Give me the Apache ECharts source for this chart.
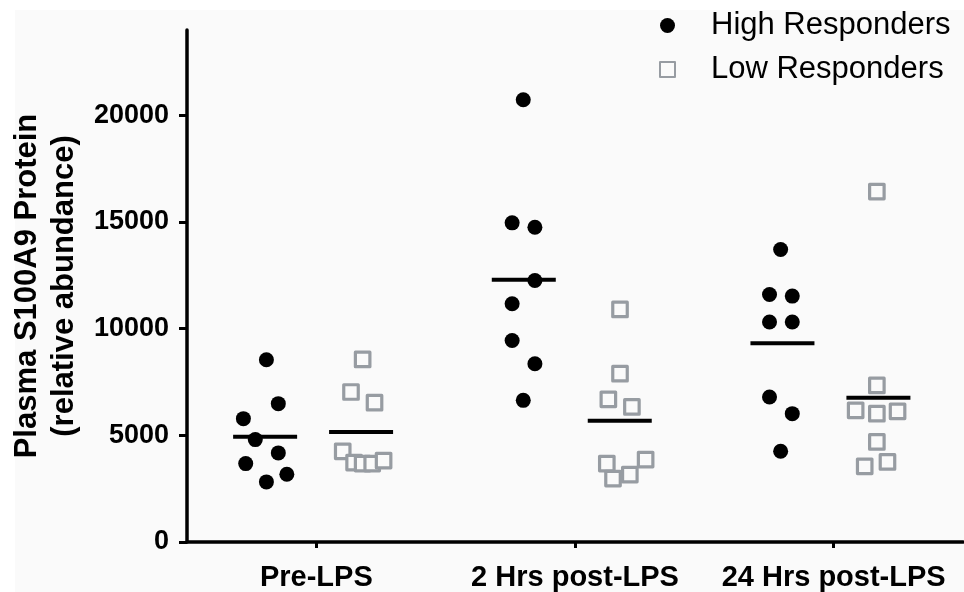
<!DOCTYPE html>
<html>
<head>
<meta charset="utf-8">
<script src="https://cdn.jsdelivr.net/npm/echarts@6/dist/echarts.min.js"></script>
<style>
  html, body { margin: 0; padding: 0; background: #ffffff; }
  #main { width: 964px; height: 592px; }
</style>
</head>
<body>
<div id="main"></div>
<script>
// categories on the x axis (placed at 0, 1, 2)
var categories = ['Pre-LPS', '2 Hrs post-LPS', '24 Hrs post-LPS'];
var yTicks = [0, 5000, 10000, 15000, 20000];

// High responders: x position (category index + jitter) and value
var highX = [
  -0.193, -0.147, -0.282, -0.236, -0.147, -0.273, -0.114, -0.193,
  0.800, 0.757, 0.845, 0.845, 0.757, 0.757, 0.845, 0.800,
  1.795, 1.752, 1.840, 1.752, 1.840, 1.752, 1.840, 1.795
];
var highY = [
  8545, 6485, 5782, 4799, 4176, 3675, 3174, 2818,
  20732, 14959, 14757, 12257, 11167, 9448, 8357, 6639,
  13709, 11602, 11527, 10310, 10310, 6798, 6016, 4251
];

// Low responders
var lowX = [
  0.179, 0.134, 0.225, 0.102, 0.146, 0.179, 0.216, 0.260,
  1.174, 1.174, 1.129, 1.220, 1.123, 1.147, 1.212, 1.273,
  2.167, 2.167, 2.085, 2.167, 2.247, 2.167, 2.208, 2.120
];
var lowY = [
  8560, 7032, 6531, 4251, 3722, 3675, 3675, 3815,
  10900, 7889, 6686, 6330, 3675, 2973, 3160, 3863,
  16425, 7341, 6171, 6016, 6124, 4691, 3755, 3549
];

var HIGH_OFF = -0.198, LOW_OFF = 0.173;
var PER_GROUP = 8;

function pairs(xs, ys) {
  return xs.map(function (x, i) { return [x, ys[i]]; });
}
function means(ys, off) {
  var out = [];
  for (var g = 0; g < categories.length; g++) {
    var s = 0;
    for (var k = 0; k < PER_GROUP; k++) s += ys[g * PER_GROUP + k];
    out.push([g + off, s / PER_GROUP]);
  }
  return out;
}

var meanLines = means(highY, HIGH_OFF).concat(means(lowY, LOW_OFF));

var font = 'Liberation Sans';
var chart = echarts.init(document.getElementById('main'));

chart.setOption({
  backgroundColor: '#ffffff',
  animation: false,
  textStyle: { fontFamily: font },
  graphic: [{
    type: 'rect', z: -10, silent: true,
    shape: { x: 15, y: 10, width: 964, height: 592 },
    style: { fill: '#fafafa' }
  }],
  grid: { left: 187, right: 1, top: 30, bottom: 48.5 },
  legend: {
    orient: 'vertical',
    left: 654, top: 5,
    itemWidth: 15, itemHeight: 15,
    itemGap: 13,
    textStyle: { fontSize: 31, color: '#000', fontFamily: font, padding: [0, 0, 0, 31] },
    data: [
      { name: 'High Responders', icon: 'circle' },
      { name: 'Low Responders', icon: 'rect' }
    ]
  },
  xAxis: {
    type: 'value',
    min: -0.5, max: 2.5,
    splitLine: { show: false },
    axisLine: { onZero: false, lineStyle: { color: '#000', width: 3.5 } },
    axisTick: { show: true, customValues: [0, 1, 2], length: 6, lineStyle: { color: '#000', width: 3 } },
    axisLabel: {
      customValues: [0, 1, 2],
      margin: 21,
      color: '#000', fontWeight: 'bold', fontSize: 29, fontFamily: font,
      formatter: function (v) { return categories[Math.round(v)]; }
    }
  },
  yAxis: {
    type: 'value',
    min: 0, max: 24000,
    splitLine: { show: false },
    axisLine: { show: true, onZero: false, lineStyle: { color: '#000', width: 3.5 } },
    axisTick: { show: true, customValues: yTicks, length: 8, lineStyle: { color: '#000', width: 3 } },
    axisLabel: {
      customValues: yTicks,
      margin: 18,
      color: '#000', fontWeight: 'bold', fontSize: 27, fontFamily: font,
      formatter: function (v) { return String(v); }
    },
    name: 'Plasma S100A9 Protein\n(relative abundance)',
    nameLocation: 'middle',
    nameGap: 102,
    nameTextStyle: { color: '#000', fontWeight: 'bold', fontSize: 31, lineHeight: 37, fontFamily: font }
  },
  series: [
    {
      name: 'High Responders',
      type: 'scatter',
      symbol: 'circle',
      symbolSize: 15,
      itemStyle: { color: '#000', opacity: 1 },
      data: pairs(highX, highY),
      z: 3
    },
    {
      name: 'Low Responders',
      type: 'scatter',
      symbol: 'rect',
      symbolSize: 14.5,
      itemStyle: { color: '#fafafa', borderColor: '#979ca2', borderWidth: 3.2, borderJoin: 'round', opacity: 1 },
      data: pairs(lowX, lowY),
      z: 3
    },
    {
      name: 'mean',
      type: 'custom',
      silent: true,
      z: 4,
      renderItem: function (params, api) {
        var p = api.coord([api.value(0), api.value(1)]);
        return {
          type: 'line',
          shape: { x1: p[0] - 32, y1: p[1], x2: p[0] + 32, y2: p[1] },
          style: { stroke: '#000', lineWidth: 4 }
        };
      },
      data: meanLines
    }
  ]
});
</script>
</body>
</html>
